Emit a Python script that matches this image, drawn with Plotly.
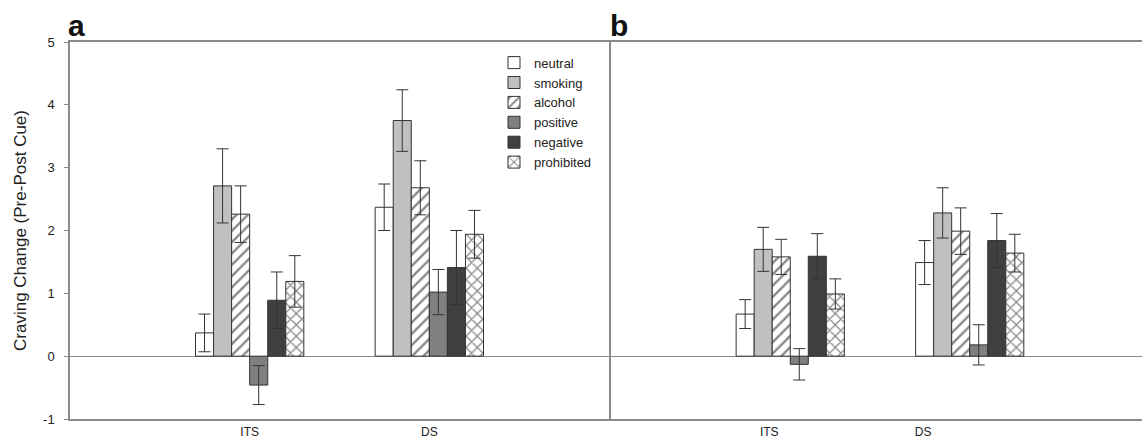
import plotly.graph_objects as go

# ---------------- data ----------------
groups = ["ITS", "DS"]
series = ["neutral", "smoking", "alcohol", "positive", "negative", "prohibited"]

# Panel a: means and SE (ITS, DS)
a_means = {
    "neutral":    [0.37, 2.37],
    "smoking":    [2.71, 3.75],
    "alcohol":    [2.26, 2.68],
    "positive":   [-0.46, 1.02],
    "negative":   [0.89, 1.41],
    "prohibited": [1.19, 1.94],
}
a_errs = {
    "neutral":    [0.30, 0.37],
    "smoking":    [0.59, 0.49],
    "alcohol":    [0.45, 0.43],
    "positive":   [0.31, 0.36],
    "negative":   [0.45, 0.59],
    "prohibited": [0.41, 0.38],
}
# Panel b
b_means = {
    "neutral":    [0.67, 1.49],
    "smoking":    [1.70, 2.28],
    "alcohol":    [1.58, 1.99],
    "positive":   [-0.13, 0.18],
    "negative":   [1.59, 1.84],
    "prohibited": [0.99, 1.64],
}
b_errs = {
    "neutral":    [0.23, 0.35],
    "smoking":    [0.35, 0.40],
    "alcohol":    [0.28, 0.37],
    "positive":   [0.25, 0.32],
    "negative":   [0.36, 0.43],
    "prohibited": [0.24, 0.30],
}
y_ticks = [-1, 0, 1, 2, 3, 4, 5]
y_tick_text = ["-1", "0", "1", "2", "3", "4", "5"]
# panel b category label positions (labels sit left of the bar groups)
b_label_pos = [-0.117, 0.74]

# ---------------- styles ----------------
FONT = "Liberation Sans, Arial, sans-serif"
AXC = "#8a8a8a"
styles = {
    "neutral":    dict(color="#ffffff"),
    "smoking":    dict(color="#c0c0c0"),
    "alcohol":    dict(color="#ffffff", pattern=dict(shape="/", fgcolor="#111111", bgcolor="#ffffff", size=8, solidity=0.3)),
    "positive":   dict(color="#808080"),
    "negative":   dict(color="#404040"),
    "prohibited": dict(color="#ffffff", pattern=dict(shape="x", fgcolor="#111111", bgcolor="#ffffff", size=8, solidity=0.3)),
}

fig = go.Figure()
x_pos = [0, 1]
for panel, means, errs, xa, ya, show in [("a", a_means, a_errs, "x", "y", True),
                                           ("b", b_means, b_errs, "x2", "y2", False)]:
    for s in series:
        st = styles[s]
        marker = dict(color=st["color"], line=dict(color="#333333", width=1))
        if "pattern" in st:
            marker["pattern"] = st["pattern"]
        fig.add_trace(go.Bar(
            x=x_pos, y=means[s], name=s, legendgroup=s, showlegend=show,
            xaxis=xa, yaxis=ya, marker=marker, offsetgroup=s,
            error_y=dict(type="data", array=errs[s], visible=True,
                         color="#333333", thickness=1, width=6),
        ))

split = (609 - 70) / 1072

fig.update_layout(
    width=1142, height=442,
    margin=dict(l=70, r=0, t=42, b=23),
    paper_bgcolor="white", plot_bgcolor="white",
    barmode="group", bargap=0.397, bargroupgap=0,
    font=dict(family=FONT, size=13, color="#222222"),
    showlegend=True,
    legend=dict(x=(494 - 70) / 1072, y=0.985, xanchor="left", yanchor="top",
                bgcolor="rgba(0,0,0,0)", font=dict(size=13, family=FONT),
                tracegroupgap=0, itemwidth=30),
    xaxis=dict(domain=[0, split], range=[-1, 2], tickvals=x_pos, ticktext=groups,
               showline=True, mirror=True, linecolor=AXC, linewidth=1.5,
               ticks="", showgrid=False, zeroline=False, ticklabelstandoff=1,
               tickfont=dict(size=12),
               automargin=False, fixedrange=True),
    yaxis=dict(domain=[0, 1], range=[-1, 5], tickvals=y_ticks, ticktext=y_tick_text,
               showline=True, mirror=True, linecolor=AXC, linewidth=1.5,
               ticks="outside", ticklen=4, tickcolor=AXC, showgrid=False,
               zeroline=True, zerolinecolor=AXC, zerolinewidth=1,
               ticklabelstandoff=7, automargin=False,
               title=dict(text="Craving Change (Pre-Post Cue)", font=dict(size=17), standoff=12)),
    xaxis2=dict(domain=[split, 1], range=[-1.01, 1.96], anchor="y2",
                tickvals=b_label_pos, ticktext=groups,
                showline=True, mirror=True, linecolor=AXC, linewidth=1.5,
                ticks="", showgrid=False, zeroline=False, ticklabelstandoff=1,
                tickfont=dict(size=12),
                automargin=False),
    yaxis2=dict(domain=[0, 1], range=[-1, 5], anchor="x2",
                showline=False, showticklabels=False, ticks="", showgrid=False,
                zeroline=True, zerolinecolor=AXC, zerolinewidth=1, automargin=False),
    annotations=[
        dict(text="<b>a</b>", xref="paper", yref="paper", x=(66 - 70) / 1072, y=0.995,
             xanchor="left", yanchor="bottom", showarrow=False, font=dict(size=30, family=FONT, color="#111111")),
        dict(text="<b>b</b>", xref="paper", yref="paper", x=(608 - 70) / 1072, y=0.995,
             xanchor="left", yanchor="bottom", showarrow=False, font=dict(size=30, family=FONT, color="#111111")),
    ],
)

fig.write_html("out.html")
